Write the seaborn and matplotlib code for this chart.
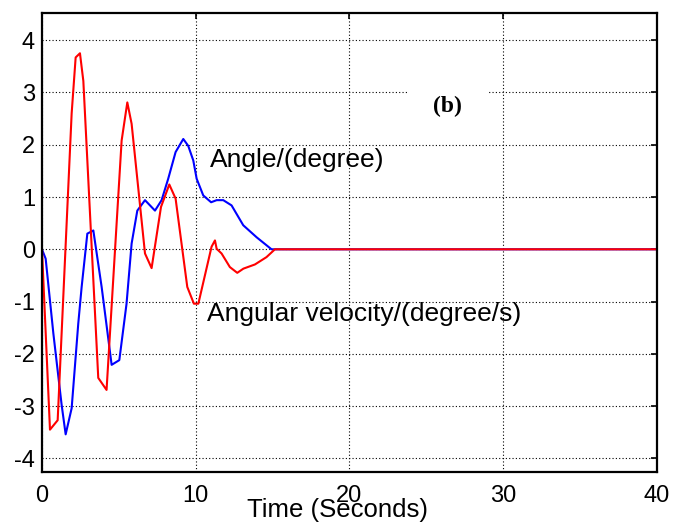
import matplotlib
matplotlib.use("Agg")
import matplotlib.pyplot as plt
import seaborn as sns
import pandas as pd

# angle (degree)
angle_t = [0, 0.24, 0.74, 1.28, 1.54, 1.93, 2.36, 2.58, 2.95, 3.34, 3.88, 4.53, 5.03, 5.5,
           5.83, 6.2, 6.7, 7.35, 7.78, 8.21, 8.69, 9.19, 9.51, 9.84, 10.06, 10.49, 11.0,
           11.36, 11.79, 12.33, 13.09, 13.96, 14.93, 40]
angle_v = [0, -0.18, -1.61, -2.98, -3.54, -3.04, -1.42, -0.72, 0.3, 0.36, -0.72, -2.21, -2.12, -1.04,
           0.11, 0.74, 0.94, 0.74, 0.94, 1.35, 1.86, 2.11, 1.98, 1.70, 1.35, 1.03, 0.90,
           0.94, 0.94, 0.84, 0.46, 0.23, 0.0, 0]

# angular velocity (degree/s)
vel_t = [0, 0.52, 1.02, 1.93, 2.19, 2.47, 2.69, 3.66, 4.2, 5.18, 5.55, 5.83, 6.7, 7.13, 7.74,
         8.28, 8.69, 9.45, 9.88, 10.17, 11.03, 11.25, 11.36, 11.68, 12.22, 12.7, 13.1, 13.85,
         14.6, 15.15, 40]
vel_v = [0, -3.45, -3.27, 2.6, 3.67, 3.75, 3.22, -2.46, -2.69, 2.08, 2.81, 2.40, -0.08, -0.36, 0.81,
         1.24, 0.97, -0.72, -1.04, -1.04, 0.05, 0.17, 0.01, -0.08, -0.34, -0.45, -0.37, -0.29,
         -0.15, 0, 0]

x_ticks = [0, 10, 20, 30, 40]
y_ticks = [-4, -3, -2, -1, 0, 1, 2, 3, 4]

sns.set_style("white")
plt.rcParams["font.family"] = ["Liberation Sans", "DejaVu Sans"]
plt.rcParams["axes.unicode_minus"] = False
plt.rcParams["text.color"] = "black"

df_angle = pd.DataFrame({"t": angle_t, "v": angle_v})
df_vel = pd.DataFrame({"t": vel_t, "v": vel_v})

fig = plt.figure(figsize=(6.76, 5.31), dpi=100)
ax = fig.add_axes([0.0621, 0.1111, 0.9098, 0.8644])

sns.lineplot(data=df_angle, x="t", y="v", color="#0000ff", lw=1.5, sort=False,
             estimator=None, ax=ax)
sns.lineplot(data=df_vel, x="t", y="v", color="#ff0000", lw=1.5, sort=False,
             estimator=None, ax=ax)

ax.set_xlim(0, 40)
ax.set_ylim(-4.26, 4.52)
ax.set_xticks(x_ticks)
ax.set_yticks(y_ticks)
ax.grid(True, color="black", linestyle=(0, (1, 2)), linewidth=0.8)
ax.set_axisbelow(True)

for s in ax.spines.values():
    s.set_visible(True)
    s.set_color("black")
    s.set_linewidth(1.6)

ax.tick_params(direction="in", length=4.5, width=1.2, top=True, right=True,
               labelsize=17, colors="black", labelcolor="black")
ax.tick_params(axis="x", pad=9)
ax.tick_params(axis="y", pad=5)

ax.set_ylabel("")
ax.set_xlabel("Time (Seconds)", fontsize=18.5, color="black")
ax.xaxis.label.set_va("baseline")
ax.xaxis.set_label_coords(0.4805, -0.098)

ax.text(10.92, 1.58, "Angle/(degree)", fontsize=19, va="baseline", ha="left", color="black")
ax.text(10.71, -1.37, "Angular velocity/(degree/s)", fontsize=19, va="baseline", ha="left",
        color="black")
ax.text(26.4, 2.74, "(b)", fontsize=17, fontweight="bold", family="Liberation Serif",
        ha="center", va="center", color="black",
        bbox=dict(facecolor="white", edgecolor="none", boxstyle="square,pad=1.1"))

fig.savefig("out.png", dpi=100)
